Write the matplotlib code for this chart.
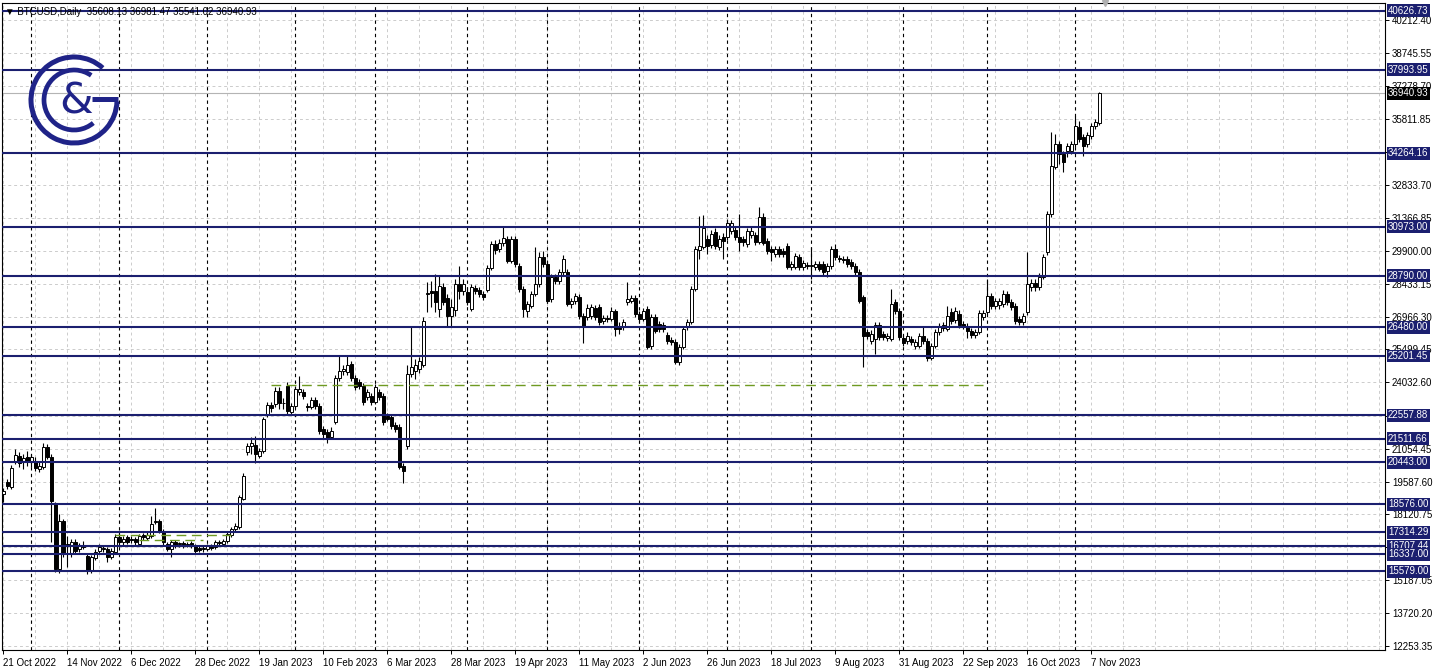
import numpy as np
import pandas as pd
import matplotlib
matplotlib.use("Agg")
import matplotlib.pyplot as plt
from matplotlib.patches import Arc
from matplotlib.transforms import blended_transform_factory

plt.rcParams['font.family'] = ['Liberation Sans', 'DejaVu Sans']

# BTCUSD daily bars (weekdays only, as the broker feed shows them)
dates = pd.bdate_range('2022-10-21', periods=275)

opens = [
    19040, 19580, 19360, 20520, 20740, 20470, 20700, 20470, 20520, 20160,
    20250, 21140, 20700, 18600, 15690, 17840, 16810, 16360, 16900, 16590,
    16720, 16270, 15600, 16190, 16500, 16590, 16590, 16230, 16450, 17120,
    16900, 17120, 17030, 17030, 16810, 17210, 17080, 17170, 17790, 17840,
    17390, 16810, 16590, 16900, 16810, 16860, 16810, 16860, 16720, 16630,
    16630, 16590, 16720, 16680, 16900, 16810, 16940, 17210, 17480, 17570,
    18820, 20920, 21190, 21230, 20740, 20960, 22620, 23020, 23060, 23640,
    23110, 23870, 22710, 22970, 23600, 23600, 22970, 22930, 23240, 22970,
    21950, 21810, 21590, 22260, 24220, 24540, 24490, 24850, 24220, 24050,
    23870, 23380, 23420, 23150, 23600, 23420, 22530, 22480, 22130, 22040,
    20290, 21190, 24400, 24540, 24630, 24810, 27980, 28110, 28110, 27310,
    28290, 27800, 26990, 27260, 28420, 28110, 28070, 27310, 28240, 28150,
    27980, 28150, 29140, 30210, 29990, 30250, 30430, 29450, 30430, 29230,
    28200, 27220, 27440, 27980, 28420, 29630, 29320, 27750, 28740, 28560,
    28960, 28960, 27530, 27660, 27840, 26990, 26950, 26990, 27350, 27400,
    26770, 26900, 26860, 27220, 26550, 26500, 27620, 27660, 27800, 27080,
    26860, 27310, 25650, 26950, 26640, 26590, 26140, 25920, 25830, 24940,
    25610, 26500, 26730, 28200, 29940, 30070, 30430, 30160, 30740, 30070,
    30520, 30520, 30790, 30830, 30520, 30430, 30210, 30610, 30610, 30300,
    31410, 30340, 29990, 29760, 29990, 29900, 30120, 29180, 29180, 29630,
    29180, 29270, 29230, 29180, 29320, 29320, 29000, 29230, 29990, 29580,
    29540, 29540, 29400, 29230, 28960, 27840, 26280, 25880, 25970, 26590,
    26190, 26010, 25970, 27620, 27220, 26010, 25880, 25970, 25650, 25650,
    26100, 25880, 25120, 25650, 26280, 26590, 26410, 27170, 26810, 27080,
    26640, 26550, 26320, 26140, 26280, 26950, 27170, 27890, 27440, 27480,
    27530, 27980, 27620, 27440, 26860, 26730, 27170, 28290, 28470, 28290,
    28740, 29850, 31550, 33650, 34670, 34230, 34360, 34360, 34670, 35430,
    34990, 34670, 35030, 35480, 35608.13,
]
highs = [
    19310, 19710, 20340, 21050, 20920, 20830, 20960, 20830, 20700, 20470,
    21320, 21280, 20830, 18690, 18150, 17930, 17170, 17030, 17030, 16860,
    16940, 16360, 16320, 16590, 16810, 16720, 16680, 16630, 17260, 17350,
    17170, 17210, 17170, 17120, 17260, 17300, 17350, 18060, 18420, 17930,
    17480, 16900, 16990, 16990, 16900, 16940, 16900, 16940, 16810, 16720,
    16720, 16810, 16810, 16990, 16990, 17030, 17350, 17570, 17750, 19000,
    19980, 21320, 21590, 21630, 21100, 22480, 23150, 23150, 23820, 23820,
    23330, 24050, 23110, 23870, 24310, 23730, 23110, 23380, 23380, 23110,
    22080, 21950, 22040, 24360, 25210, 24810, 25250, 24980, 24360, 24180,
    24000, 23730, 23550, 23960, 23730, 23550, 22660, 22620, 22260, 22170,
    20430, 24810, 26500, 25070, 25160, 26950, 28510, 28560, 28870, 28780,
    28470, 27980, 27750, 28650, 29230, 28650, 28290, 28420, 28380, 28290,
    28110, 29270, 30340, 30390, 30430, 31010, 30570, 30570, 30570, 29360,
    28330, 27660, 28110, 30070, 29850, 29900, 29450, 28870, 28870, 29090,
    29720, 29090, 27800, 28020, 27980, 27130, 27530, 27530, 27480, 27530,
    27040, 27040, 27400, 27310, 26730, 26860, 28510, 27930, 27930, 27220,
    27350, 27440, 27080, 27080, 26770, 26730, 26280, 26060, 25970, 25740,
    26550, 26860, 28330, 30120, 31460, 31500, 30610, 30830, 30920, 30610,
    30700, 31330, 31280, 30970, 31550, 30570, 30920, 30970, 30740, 31860,
    31590, 30480, 30120, 30120, 30120, 30030, 30250, 29450, 29810, 29760,
    29490, 29400, 30070, 29450, 29450, 29450, 29360, 30120, 30210, 29720,
    29670, 29670, 29540, 29360, 29090, 27930, 26410, 26370, 26730, 26730,
    26320, 26230, 28200, 27750, 27350, 26140, 26280, 26100, 25970, 26230,
    26500, 26010, 25790, 26410, 26680, 26730, 27440, 27350, 27400, 27260,
    26770, 26680, 26460, 26410, 27260, 27260, 28650, 28020, 27800, 27800,
    28150, 28110, 27750, 27570, 26990, 27130, 29850, 28650, 28650, 28910,
    29760, 31680, 35210, 35120, 34810, 34360, 34720, 34810, 35930, 35700,
    35120, 35210, 35610, 35790, 36981.47,
]
lows = [
    18690, 19270, 19270, 20380, 20250, 20160, 20290, 20250, 20070, 20030,
    20160, 20610, 16900, 15560, 15520, 16230, 15780, 16230, 16360, 16450,
    16590, 15470, 15520, 16100, 16410, 16450, 16010, 16140, 16360, 16770,
    16770, 16810, 16860, 16770, 16720, 16990, 16990, 17080, 17700, 17300,
    16770, 16500, 16230, 16630, 16680, 16630, 16680, 16630, 16410, 16450,
    16450, 16500, 16540, 16590, 16770, 16720, 16860, 17120, 17390, 17480,
    18780, 20790, 20830, 20430, 20650, 20880, 22480, 22700, 22930, 22840,
    22840, 22620, 22570, 22880, 23470, 23290, 22750, 22840, 22840, 21720,
    21500, 21320, 21500, 22170, 24090, 24360, 24360, 24090, 23690, 23730,
    23020, 23240, 23020, 23060, 23240, 22130, 22300, 21950, 21810, 20160,
    19530, 21050, 24270, 24180, 24450, 24720, 27170, 27400, 27170, 26950,
    27480, 26550, 26550, 26990, 27750, 27930, 27480, 27220, 27980, 27840,
    27710, 28070, 29050, 29760, 29850, 30120, 29360, 29360, 29180, 28070,
    26950, 26950, 27350, 27890, 28290, 29180, 27570, 27620, 28420, 28420,
    28820, 27440, 27350, 27530, 26860, 25770, 26810, 26860, 26810, 26590,
    26640, 26730, 26770, 26100, 26190, 26370, 27480, 27570, 26950, 26730,
    26770, 25520, 25520, 26230, 26280, 26280, 25740, 25700, 24850, 24810,
    25520, 26370, 26640, 28110, 29540, 29990, 29760, 30030, 29990, 29940,
    29540, 30390, 30660, 30390, 29900, 30120, 30070, 30480, 30160, 30210,
    30160, 29760, 29450, 29630, 29630, 29630, 29090, 29050, 29090, 29050,
    29050, 29090, 28650, 29050, 29000, 28820, 28740, 29090, 29490, 29400,
    29360, 29180, 29090, 28820, 27570, 24720, 25970, 25740, 25300, 25920,
    25920, 25880, 25880, 27080, 25920, 25650, 25740, 25700, 25520, 25560,
    25740, 24980, 25030, 25560, 26140, 26320, 26320, 26640, 26680, 26460,
    26410, 26010, 26010, 26010, 26190, 26810, 27080, 27310, 27310, 27310,
    27400, 27480, 27260, 26640, 26590, 26590, 27040, 28110, 28110, 28150,
    28650, 29720, 31410, 33560, 33780, 33420, 34090, 34230, 34540, 34760,
    34140, 34540, 34900, 35340, 35541.02,
]
closes = [
    19180, 19400, 20210, 20790, 20430, 20650, 20470, 20700, 20210, 20290,
    21140, 20700, 18730, 15690, 17840, 16360, 16720, 16900, 16500, 16720,
    16680, 15600, 16230, 16450, 16680, 16600, 16230, 16500, 17120, 16900,
    17030, 16900, 16990, 16900, 17170, 17120, 17210, 17700, 17840, 17390,
    16900, 16590, 16900, 16720, 16820, 16720, 16770, 16720, 16500, 16540,
    16590, 16720, 16630, 16900, 16860, 16940, 17260, 17480, 17610, 18910,
    19850, 21190, 21320, 20830, 20960, 22390, 23020, 22880, 23640, 23110,
    23120, 22750, 22970, 23730, 23730, 23420, 22930, 23240, 22970, 21860,
    21720, 21500, 21860, 24220, 24540, 24630, 24810, 24220, 23820, 23870,
    23150, 23600, 23150, 23820, 23380, 22260, 22390, 22080, 21950, 20250,
    20070, 24400, 24720, 24810, 24980, 26770, 28020, 28020, 27620, 28330,
    27620, 26990, 27400, 28420, 28110, 28420, 27620, 28290, 28110, 27980,
    27840, 29140, 30210, 29940, 30250, 30480, 29450, 30430, 29320, 28200,
    27310, 27530, 27980, 28420, 29630, 29320, 27660, 28740, 28560, 28960,
    29540, 27530, 27660, 27890, 26990, 26500, 27350, 27400, 26950, 26730,
    26900, 26860, 27220, 26410, 26410, 26730, 27750, 27800, 27080, 26860,
    27220, 25610, 26950, 26320, 26410, 26410, 25880, 25830, 24940, 25610,
    26410, 26730, 28200, 29990, 30120, 30920, 30120, 30660, 30120, 30430,
    30340, 31150, 31150, 30520, 30300, 30300, 30790, 30790, 30300, 31410,
    30250, 29900, 29850, 29990, 29760, 29760, 29180, 29320, 29670, 29180,
    29360, 29230, 29270, 29320, 29090, 28960, 29230, 29990, 29630, 29540,
    29490, 29320, 29230, 28960, 27660, 26100, 26100, 26190, 26590, 26060,
    26060, 26100, 27530, 27220, 26060, 25790, 26100, 25830, 25830, 26100,
    25880, 25120, 25650, 26280, 26550, 26460, 26990, 26770, 27220, 26590,
    26550, 26320, 26140, 26280, 27130, 27130, 27890, 27440, 27660, 27660,
    27980, 27620, 27400, 26770, 26730, 26990, 28420, 28470, 28290, 28740,
    29630, 31550, 33690, 34670, 34230, 33870, 34590, 34670, 35480, 34900,
    34590, 35080, 35480, 35660, 36940.93,
]

# horizontal support / resistance levels (navy)
levels = [40626.73, 37993.95, 34264.16, 30973.00, 28790.00, 26480.00, 25201.45,
          22557.88, 21511.66, 20443.00, 18576.00, 17314.29, 16707.44, 16337.00,
          15579.00]
# price scale grid values; the three covered by level boxes carry no label
price_ticks = [12253.35, 13720.20, 15187.05, 16653.90, 18120.75, 19587.60,
               21054.45, 22521.30, 24032.60, 25499.45, 26966.30, 28433.15,
               29900.00, 31366.85, 32833.70, 34300.55, 35811.85, 37278.70,
               38745.55, 40212.40]
hidden_ticks = [16653.90, 22521.30, 34300.55]
# green dashed lines: price, from, to
green_lines = [(23890, '2023-01-24', '2023-09-29'),
               (17200, '2022-11-30', '2023-01-10'),
               (16980, '2022-12-08', '2022-12-30')]
symbol = 'BTCUSD'
timeframe = 'Daily'

navy = '#1b1f6f'
W, H = 1438, 672
fig = plt.figure(figsize=(W / 100, H / 100), dpi=100)
ax = fig.add_axes([2 / W, 1 - 650 / H, 1383 / W, 647 / H])

o = np.array(opens, float)
c = np.array(closes, float)
h = np.maximum(np.array(highs, float), np.maximum(o, c))
l = np.minimum(np.array(lows, float), np.minimum(o, c))
idx = np.arange(len(dates))
n_slots = 345.5

ax.set_xlim(-0.25, n_slots)
ax.set_ylim(12059, 40980)

# grid
for p in price_ticks:
    ax.axhline(p, color='#cccccc', lw=0.7, ls=(0, (3, 3)), zorder=0)
for i in range(0, int(n_slots) + 1, 8):
    ax.axvline(i, color='#cccccc', lw=0.7, ls=(0, (3, 3)), zorder=0)

# monthly period separators
month_start = [i for i in range(1, len(dates)) if dates[i].month != dates[i - 1].month]
for i in month_start:
    ax.axvline(i, color='black', lw=0.8, ls=(0, (3, 3)), zorder=1)

# bid line
ax.axhline(c[-1], color='#b4b4b4', lw=0.8, zorder=1)

# candles
ax.vlines(idx, l, h, color='black', lw=0.8, zorder=3)
up = c >= o
ax.bar(idx, np.abs(c - o), bottom=np.minimum(o, c), width=0.75,
       color=np.where(up, 'white', 'black'), edgecolor='black',
       linewidth=0.7, zorder=4)

# drawn objects
date_pos = {d.strftime('%Y-%m-%d'): i for i, d in enumerate(dates)}
for p, d0, d1 in green_lines:
    ax.plot([date_pos[d0], date_pos[d1]], [p, p], color='#6f9a22', lw=1.0,
            ls=(0, (7, 4)), zorder=5)
for lv in levels:
    ax.axhline(lv, color=navy, lw=1.5, zorder=6)

tr = blended_transform_factory(ax.transAxes, ax.transData)
for lv in levels:
    ax.text(1 + 3 / 1383, lv, f'{lv:.2f}', transform=tr, ha='left', va='center',
            fontsize=7, color='white', zorder=12, clip_on=False,
            bbox=dict(boxstyle='square,pad=0.15', fc=navy, ec='none'))
ax.text(1 + 3 / 1383, c[-1], f'{c[-1]:.2f}', transform=tr, ha='left', va='center',
        fontsize=7, color='white', zorder=13, clip_on=False,
        bbox=dict(boxstyle='square,pad=0.15', fc='black', ec='none'))

# axes
ax.yaxis.tick_right()
ax.set_yticks(price_ticks)
ax.set_yticklabels(['' if p in hidden_ticks else f'{p:.2f}' for p in price_ticks])
ax.tick_params(axis='y', length=3, width=0.7, pad=2, labelsize=7)
lab_idx = list(range(0, len(dates), 16))
ax.set_xticks(lab_idx)
ax.set_xticklabels([f'{dates[i].day} {dates[i]:%b %Y}' for i in lab_idx])
ax.tick_params(axis='x', length=3, width=0.7, pad=3, labelsize=7)
for t in ax.get_xticklabels():
    t.set_ha('left')
for s in ax.spines.values():
    s.set_linewidth(0.8)
    s.set_color('black')

# chart shift marker
ax.plot(275.5, 40980, marker='v', color='#b0b0b0', ms=5, clip_on=False, zorder=7)

# title
fig.text(5 / W, 1 - 12 / H,
         f'\u25bc {symbol},{timeframe}  {o[-1]:.2f} {h[-1]:.2f} {l[-1]:.2f} {c[-1]:.2f}',
         fontsize=7, va='center', ha='left', color='black')

# logo
logo = '#1f2388'
lax = fig.add_axes([20 / W, 1 - 150 / H, 110 / W, 100 / H])
lax.set_xlim(20, 130)
lax.set_ylim(150, 50)
lax.axis('off')
lax.add_patch(Arc((74, 100), 86, 86, theta1=2, theta2=312, lw=3.6, color=logo))
lax.add_patch(Arc((74, 100), 60, 60, theta1=50, theta2=305, lw=3.4, color=logo))
lax.plot([92, 118], [99, 99], color=logo, lw=3.6, solid_capstyle='butt')
lax.text(76, 101, '&', fontsize=31, color=logo, ha='center', va='center',
         family='DejaVu Sans')

fig.savefig('out.png', dpi=100)
